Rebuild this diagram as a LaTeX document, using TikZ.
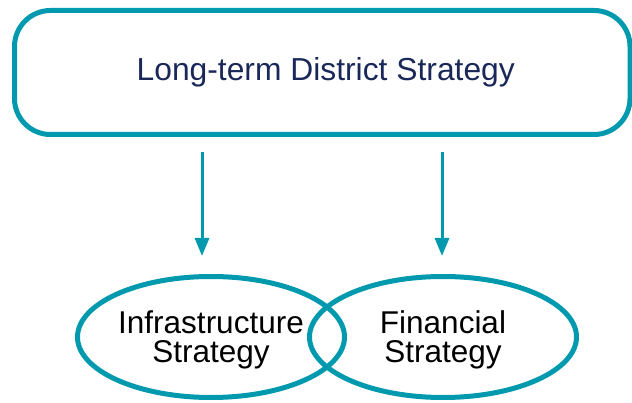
\documentclass[tikz,border=0pt]{standalone}
\usepackage{fontspec}
\setmainfont{Liberation Sans}
\usetikzlibrary{shapes.geometric,arrows.meta}
\definecolor{teal}{HTML}{0099AE}
\definecolor{navy}{HTML}{1A2859}
\tikzset{
  strategybox/.style={draw=teal, line width=5pt, rounded corners=36pt,
    minimum width=615.5pt, minimum height=124pt, inner sep=0pt,
    text=navy, font=\fontsize{31.8}{30}\selectfont},
  strategyoval/.style={draw=teal, line width=5pt, ellipse, inner sep=0pt,
    minimum width=267pt, minimum height=121pt, align=center,
    text depth=-4pt, font=\fontsize{31.5}{29}\selectfont},
  flow/.style={draw=teal, line width=3pt,
    -{Triangle[width=14pt,length=18pt]}}
}
\begin{document}
\begin{tikzpicture}[x=1pt,y=-1pt]
  \useasboundingbox (0,0) rectangle (632,403);
  \node[strategybox] (district) at (322.25,72.5) {\hspace*{7pt}Long-term District Strategy};
  \node[strategyoval] (infra) at (211,337) {Infrastructure\\Strategy};
  \node[strategyoval] (finance) at (443,337) {Financial\\Strategy};
  \coordinate (a1s) at (202,152);
  \coordinate (a1e) at (202,256);
  \coordinate (a2s) at (442,152);
  \coordinate (a2e) at (442,256);
  \draw[flow] (a1s) -- (a1e);
  \draw[flow] (a2s) -- (a2e);
\end{tikzpicture}
\end{document}
